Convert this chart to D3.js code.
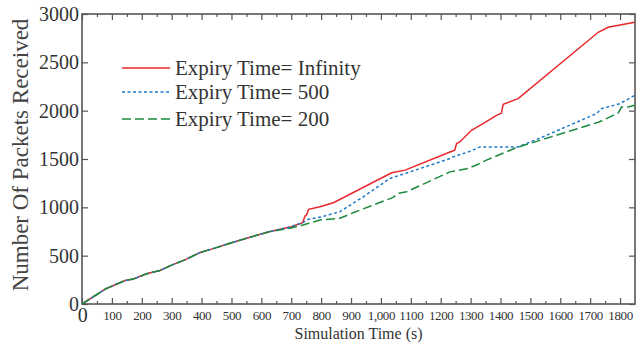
<!DOCTYPE html>
<html>
<head>
<meta charset="utf-8">
<script src="https://cdn.jsdelivr.net/npm/d3@7"></script>
<style>
    body { margin: 0; background: #fff; }
    text { font-family: "Liberation Serif", "DejaVu Serif", serif; fill: #333; }
</style>
</head>
<body>
<div id="chart"></div>
<script>

// points shared by every run until the curves split
let common_time = [0, 80, 144, 172, 216, 261, 294, 344, 395, 439, 495, 562, 629];
let common_packets = [0, 158, 243, 258, 312, 347, 395, 457, 532, 573, 629, 691, 749];

let inf_time = [700, 738, 746, 751, 758, 796, 841, 1036, 1081, 1231, 1247, 1253, 1264, 1303, 1337, 1387, 1403, 1409, 1459, 1727, 1760, 1849];
let inf_packets = [800, 841, 910, 920, 979, 1006, 1047, 1357, 1385, 1573, 1591, 1660, 1676, 1797, 1859, 1952, 1975, 2065, 2124, 2811, 2862, 2914];

let t500_time = [700, 738, 757, 800, 863, 941, 1030, 1074, 1231, 1242, 1303, 1331, 1459, 1532, 1721, 1738, 1799, 1849];
let t500_packets = [800, 841, 876, 900, 955, 1109, 1299, 1343, 1505, 1522, 1584, 1625, 1625, 1716, 1969, 2021, 2072, 2158];

let t200_time = [696, 740, 796, 863, 907, 1041, 1058, 1086, 1231, 1292, 1325, 1353, 1454, 1532, 1730, 1794, 1805, 1827, 1849];
let t200_packets = [783, 818, 869, 887, 944, 1103, 1144, 1161, 1367, 1402, 1446, 1488, 1619, 1693, 1883, 1976, 2037, 2037, 2055];

let series_names = ["Expiry Time= Infinity", "Expiry Time= 500", "Expiry Time= 200"];
let series_colors = ["#e8262b", "#1f7bc8", "#1d8a3e"];
let series_dash = ["none", "3,2.5", "9,4"];

let x_ticks = [0, 100, 200, 300, 400, 500, 600, 700, 800, 900, 1000, 1100, 1200, 1300, 1400, 1500, 1600, 1700, 1800];
let x_tick_labels = ["0", "100", "200", "300", "400", "500", "600", "700", "800", "900", "1,000", "1100", "1200", "1300", "1400", "1500", "1600", "1700", "1800"];
let y_ticks = [0, 500, 1000, 1500, 2000, 2500, 3000];
let y_tick_labels = ["0", "500", "1000", "1500", "2000", "2500", "3000"];

function build_series(times, packets) {
    let pts = [];
    for (let i = 0; i < common_time.length; i++) {
        pts.push([common_time[i], common_packets[i]]);
    }
    for (let i = 0; i < times.length; i++) {
        pts.push([times[i], packets[i]]);
    }
    return pts;
}

let series_data = [
    build_series(inf_time, inf_packets),
    build_series(t500_time, t500_packets),
    build_series(t200_time, t200_packets)
];

let chart_width = 641;
let chart_height = 347;

let margin_top = 14;
let margin_right = 6;
let margin_bottom = 43;
let margin_left = 82;

let width = chart_width - margin_left - margin_right;
let height = chart_height - margin_top - margin_bottom;

let svg = d3.select("#chart")
            .append("svg")
            .attr("width", chart_width)
            .attr("height", chart_height);

let g = svg.append("g")
           .attr("transform", "translate(" + margin_left + "," + margin_top + ")");

let xScale = d3.scaleLinear()
                .domain([0, 1850])
                .range([0, width]);

let yScale = d3.scaleLinear()
                .domain([0, 3000])
                .range([height, 0]);

let axis_color = "#555";
let minor_ticks = d3.range(50, 1850, 100);

// bottom axis, ticks point inwards
let x_axis = g.append("g")
    .attr("transform", "translate(0," + height + ")")
    .call(d3.axisBottom(xScale).tickValues(x_ticks).tickSize(-6).tickSizeOuter(0)
        .tickFormat((d, i) => x_tick_labels[i]));
x_axis.selectAll("text")
    .attr("y", (d) => d === 0 ? 2 : 6)
    .style("font-size", (d) => d === 0 ? "20px" : "13px")
    .attr("dy", "0.8em")
    .style("letter-spacing", "-0.4px");

g.append("g")
    .attr("transform", "translate(0," + height + ")")
    .call(d3.axisBottom(xScale).tickValues(minor_ticks).tickSize(-3).tickSizeOuter(0).tickFormat(""));

// top axis mirror
g.append("g")
    .call(d3.axisTop(xScale).tickValues(x_ticks).tickSize(-6).tickSizeOuter(0).tickFormat(""));
g.append("g")
    .call(d3.axisTop(xScale).tickValues(minor_ticks).tickSize(-3).tickSizeOuter(0).tickFormat(""));

let y_axis = g.append("g")
    .call(d3.axisLeft(yScale).tickValues(y_ticks).tickSize(-6).tickSizeOuter(0)
        .tickFormat((d, i) => y_tick_labels[i]));
y_axis.selectAll("text")
    .attr("x", -3)
    .style("font-size", "20px");

g.append("g")
    .attr("transform", "translate(" + width + ",0)")
    .call(d3.axisRight(yScale).tickValues(y_ticks).tickSize(-6).tickSizeOuter(0).tickFormat(""));

g.selectAll(".domain").remove();
g.selectAll(".tick line").attr("stroke", axis_color).attr("stroke-width", 1.2);

// frame
g.append("rect")
    .attr("x", 0)
    .attr("y", 0)
    .attr("width", width)
    .attr("height", height)
    .attr("fill", "none")
    .attr("stroke", axis_color)
    .attr("stroke-width", 1.6);

let line = d3.line()
    .x(function(d) { return xScale(d[0]); })
    .y(function(d) { return yScale(d[1]); });

for (let i = 0; i < series_data.length; i++) {
    g.append("path")
        .datum(series_data[i])
        .attr("d", line)
        .attr("fill", "none")
        .attr("stroke", series_colors[i])
        .attr("stroke-width", 1.5)
        .attr("stroke-dasharray", series_dash[i]);
}

// legend
let legend_rows = [68, 92, 119];
for (let i = 0; i < series_names.length; i++) {
    g.append("line")
        .attr("x1", 122 - margin_left)
        .attr("x2", 170 - margin_left)
        .attr("y1", legend_rows[i] - margin_top)
        .attr("y2", legend_rows[i] - margin_top)
        .attr("stroke", series_colors[i])
        .attr("stroke-width", 1.5)
        .attr("stroke-dasharray", series_dash[i]);
    g.append("text")
        .attr("x", 175 - margin_left)
        .attr("y", legend_rows[i] - margin_top)
        .attr("dy", "0.32em")
        .style("font-size", "21px")
        .text(series_names[i]);
}

// axis titles
svg.append("text")
    .attr("x", margin_left + width / 2)
    .attr("y", 339)
    .attr("text-anchor", "middle")
    .style("font-size", "16px")
    .text("Simulation Time (s)");

svg.append("text")
    .attr("transform", "translate(28,155) rotate(-90)")
    .attr("text-anchor", "middle")
    .style("font-size", "23px")
    .style("fill", "#444")
    .text("Number Of Packets Received");

</script>
</body>
</html>
